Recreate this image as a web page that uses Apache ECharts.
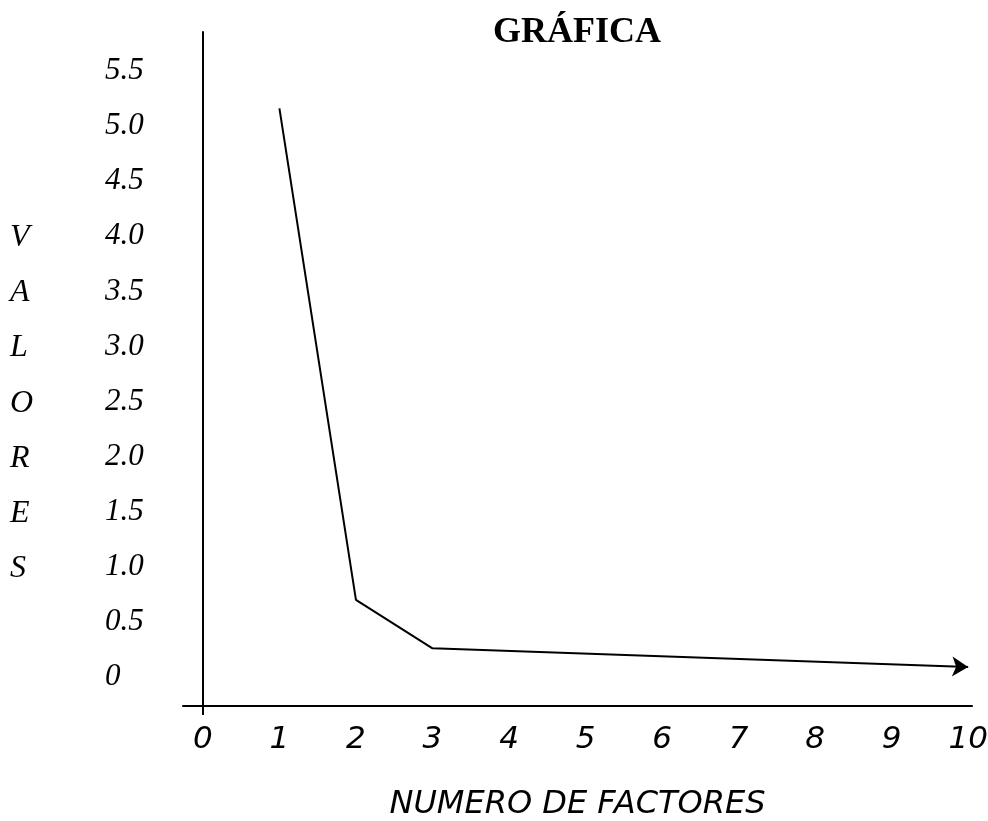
<!DOCTYPE html>
<html>
<head>
<meta charset="utf-8">
<title>GRÁFICA</title>
<script src="https://cdn.jsdelivr.net/npm/echarts@6/dist/echarts.min.js"></script>
<style>
  html, body { margin: 0; padding: 0; background: #fff; }
  #chart { width: 988px; height: 821px; }
</style>
</head>
<body>
<div id="chart"></div>
<script>
// values
const factores = [1, 2, 3, 10];
const valores = [5.16, 0.70, 0.26, 0.09];
const xTicks = [0, 1, 2, 3, 4, 5, 6, 7, 8, 9, 10];
const yTicks = [0, 0.5, 1, 1.5, 2, 2.5, 3, 3.5, 4, 4.5, 5, 5.5];
const yTitle = ['V', 'A', 'L', 'O', 'R', 'E', 'S'];

const serif = 'Liberation Serif';
const hand = 'DejaVu Sans';

let points = factores.map(function (f, i) {
  let p = { value: [f, valores[i]] };
  if (i === factores.length - 1) {
    p.symbol = 'arrow';
    p.symbolSize = [15, 16];
    p.symbolRotate = -92;
  }
  return p;
});

let chart = echarts.init(document.getElementById('chart'));
chart.setOption({
  animation: false,
  title: {
    text: 'GRÁFICA',
    left: 493,
    top: 15,
    padding: 0,
    textStyle: { fontFamily: serif, fontWeight: 'bold', fontSize: 36, color: '#000' }
  },
  // vertical axis title, one letter per line
  graphic: [{
    type: 'text',
    left: 10,
    top: 210,
    style: {
      text: yTitle.join('\n'),
      font: 'italic 32px "Liberation Serif"',
      lineHeight: 55.2,
      fill: '#000'
    }
  }],
  grid: { left: 183, right: 16, top: 32, bottom: 115, containLabel: false, outerBoundsMode: 'none' },
  xAxis: {
    type: 'value',
    min: -0.26,
    max: 10.05,
    name: 'NUMERO DE FACTORES',
    nameLocation: 'middle',
    nameGap: 83,
    nameTextStyle: { fontFamily: hand, fontStyle: 'italic', fontSize: 32, color: '#000' },
    axisLine: { onZero: false, lineStyle: { color: '#000', width: 2 } },
    axisTick: { show: true, customValues: [0], length: 9, lineStyle: { color: '#000', width: 2 } },
    axisLabel: {
      customValues: xTicks,
      margin: 18,
      fontFamily: hand, fontStyle: 'italic', fontSize: 31, color: '#000'
    },
    splitLine: { show: false }
  },
  yAxis: {
    type: 'value',
    min: -0.263,
    max: 5.854,
    axisLine: { onZero: true, lineStyle: { color: '#000', width: 2 } },
    axisTick: { show: false },
    axisLabel: {
      customValues: yTicks,
      align: 'left',
      margin: 78,
      fontFamily: serif, fontStyle: 'italic', fontSize: 31, color: '#000',
      formatter: function (v) { return v === 0 ? '0' : v.toFixed(1); }
    },
    splitLine: { show: false }
  },
  series: [{
    type: 'line',
    data: points,
    symbol: 'none',
    showSymbol: true,
    clip: false,
    lineStyle: { color: '#000', width: 2 },
    itemStyle: { color: '#000' }
  }]
});
</script>
</body>
</html>
